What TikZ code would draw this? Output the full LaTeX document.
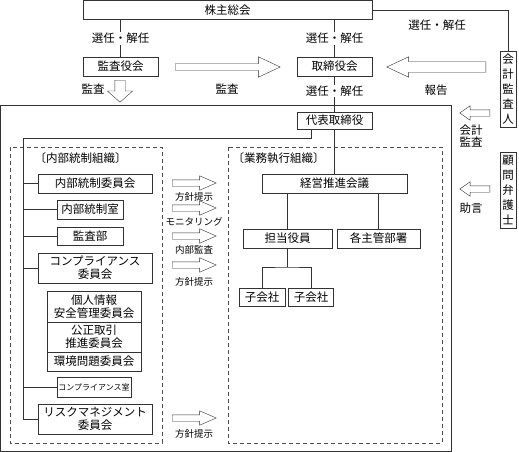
\documentclass[tikz,border=0pt]{standalone}
\usepackage{fontspec}
\setmainfont{Noto Sans CJK JP}
\usetikzlibrary{shapes.arrows}

\begin{document}
\begin{tikzpicture}[x=1pt,y=-1pt]
	\tikzstyle{every node}=[font=\fontsize{11.5}{13}\selectfont]
	\tikzstyle{box}=[draw=black!80,rectangle,inner sep=0pt,align=center,fill=white]
	\tikzstyle{tate}=[box,minimum width=16pt,minimum height=76pt,font=\fontsize{11.5}{15}\selectfont]
	\tikzstyle{tag}=[fill=white,inner sep=1pt]
	\tikzstyle{small}=[font=\fontsize{9.5}{11}\selectfont]
	\tikzstyle{line}=[draw=black!80]
	\tikzstyle{zone}=[draw=black!70,dash pattern=on 4pt off 3pt]
	\tikzstyle{hollow}=[single arrow,draw=black!80,fill=white,inner xsep=0pt,inner ysep=3pt,
		single arrow head extend=4pt,single arrow tip angle=50,anchor=tail]
	\useasboundingbox (0,0) rectangle (519,452);

	% outer frame and the two groups
	\draw[line] (0.5,105.5) rectangle (451,451);
	\draw[zone] (10,147) rectangle (162,443);
	\draw[zone] (228,147) rectangle (442,443);
	\node[anchor=west] (naibuL) at (31,158) {〔内部統制組織〕};
	\node[anchor=west] (gyomuL) at (229,158) {〔業務執行組織〕};

	% top part
	\node[box,minimum width=289pt,minimum height=19pt] (kabunushi) at (227.5,10) {株主総会};
	\node[box,minimum width=75pt,minimum height=19pt] (kansayaku) at (120.5,66.5) {監査役会};
	\node[box,minimum width=75pt,minimum height=19pt] (torishimari) at (334.5,66.5) {取締役会};
	\node[box,minimum width=75pt,minimum height=17pt] (daihyo) at (334.5,120.5) {代表取締役};
	\node[tate] (kaikei) at (508,89) {会\\計\\監\\査\\人};
	\node[tate] (komon) at (508,190) {顧\\問\\弁\\護\\士};

	\draw[line] (kabunushi.south -| kansayaku.north) -- node[tag] {選任・解任} (kansayaku.north);
	\draw[line] (kabunushi.south -| torishimari.north) -- node[tag] {選任・解任} (torishimari.north);
	\draw[line] (torishimari.south) -- node[tag,pos=0.42] {選任・解任} (daihyo.north);
	\draw[line] (kabunushi.east) -| (kaikei.north);
	\node (senninR) at (437,25) {選任・解任};

	\node[hollow,inner ysep=3pt,single arrow head extend=7pt,minimum height=105pt] (kansaA) at (175,67) {};
	\node (kansaM) at (227,89) {監査};
	\node[hollow,rotate=180,inner ysep=5pt,single arrow head extend=5pt,minimum height=99pt] (hokokuA) at (486,67) {};
	\node (hokokuL) at (436,90) {報告};
	\node[hollow,rotate=-90,inner ysep=5pt,single arrow head extend=7.5pt,single arrow tip angle=97,minimum height=22pt] (kansaD) at (120,80) {};
	\node (kansaL) at (93,89) {監査};

	\node[hollow,rotate=180,single arrow head extend=4pt,single arrow tip angle=70,minimum height=30pt] (kaikeiA) at (490,113) {};
	\node[align=center,font=\fontsize{11.5}{12}\selectfont] (kaikeiL) at (471,136) {会計\\監査};
	\node[hollow,rotate=180,single arrow head extend=4pt,single arrow tip angle=70,minimum height=30pt] (jogenA) at (490,189) {};
	\node (jogenL) at (471,208) {助言};

	% internal control side
	\node[box,minimum width=114pt,minimum height=19pt] (iinkai) at (95,183.5) {内部統制委員会};
	\node[box,minimum width=66pt,minimum height=19pt] (shitsu) at (90,209.5) {内部統制室};
	\node[box,minimum width=66pt,minimum height=18pt] (kansabu) at (90,236) {監査部};
	\node[box,minimum width=114pt,minimum height=30pt] (comp) at (95,268) {コンプライアンス\\委員会};
	\node[box,minimum width=94pt,minimum height=31pt] (kojin) at (94,306.5) {個人情報\\安全管理委員会};
	\node[box,minimum width=94pt,minimum height=30pt] (kosei) at (94,337) {公正取引\\推進委員会};
	\node[box,minimum width=94pt,minimum height=19pt] (kankyo) at (94,361.5) {環境問題委員会};
	\node[box,minimum width=74pt,minimum height=20pt,font=\fontsize{8}{9}\selectfont] (compshitsu) at (94,387) {コンプライアンス室};
	\node[box,minimum width=114pt,minimum height=30pt] (risk) at (95,419) {リスクマネジメント\\委員会};

	\coordinate (bus) at (23,138);
	\draw[line] (daihyo.south -| 311,0) |- (bus) -- (bus |- risk.west) -- (risk.west);
	\foreach \n in {iinkai,shitsu,kansabu,comp,compshitsu}
		\draw[line] (bus |- \n.west) -- (\n.west);

	\foreach \y/\ly/\t [count=\i] in {183/197/方針提示,208/222/モニタリング,236/250/内部監査,265/282/方針提示,418/434/方針提示} {
		\node[hollow,minimum height=44pt,single arrow head extend=4pt,single arrow tip angle=47] (hoshin\i) at (172,\y) {};
		\node[small] (hoshinL\i) at (194,\ly) {\t};
	}

	% business side
	\node[box,minimum width=145pt,minimum height=19pt] (keiei) at (334.5,183.5) {経営推進会議};
	\node[box,minimum width=89pt,minimum height=19pt] (tanto) at (287.5,238.5) {担当役員};
	\node[box,minimum width=83pt,minimum height=19pt] (kakushu) at (378.5,238.5) {各主管部署};
	\node[box,minimum width=46pt,minimum height=18pt] (ko1) at (262,297) {子会社};
	\node[box,minimum width=45pt,minimum height=18pt] (ko2) at (311,297) {子会社};

	\draw[line] (daihyo.south) -- (keiei.north);
	\draw[line] (keiei.south -| tanto.north) -- (tanto.north);
	\draw[line] (keiei.south -| kakushu.north) -- (kakushu.north);
	\coordinate (branch) at (287.5,267);
	\draw[line] (tanto.south) -- (branch);
	\draw[line] (ko1.north) |- (branch) -| (ko2.north);
\end{tikzpicture}
\end{document}
